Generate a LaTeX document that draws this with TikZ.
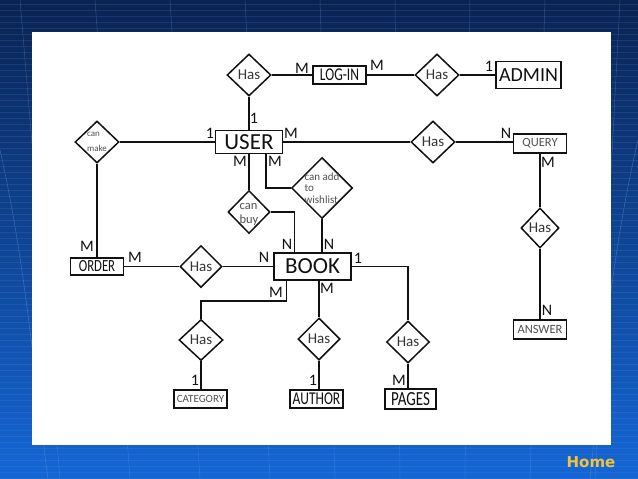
\documentclass[tikz,border=0pt]{standalone}
\usepackage{fontspec}
\setmainfont{Carlito}
\newfontfamily\condfont[FakeStretch=0.75]{Carlito}
\newfontfamily\homefont{DejaVu Sans}
\usepackage{tikz}
\usepackage{xcolor}
\usetikzlibrary{shapes.geometric,calc}
\definecolor{slidetop}{HTML}{0A2352}
\definecolor{slidebot}{HTML}{1466D6}
\definecolor{gridline}{HTML}{6C9BE0}
\definecolor{ink}{HTML}{111111}
\definecolor{inkgray}{HTML}{505050}
\definecolor{homegold}{HTML}{F0C43C}
\newcommand{\zcell}[2][0pt]{\makebox[0pt]{\smash{\raisebox{#1}{\begin{tabular}{@{}l@{}}#2\end{tabular}}}}}
\tikzset{
  ent/.style={draw=ink,line width=1.5pt,inner sep=0pt,fill=white,text=ink},
  rel/.style={diamond,draw=ink,line width=1.5pt,inner sep=0pt,fill=white,
    minimum width=44pt,minimum height=42pt,font=\fontsize{15}{15}\selectfont,text=ink!85},
  card/.style={font=\fontsize{16}{16}\selectfont,inner sep=0pt,text=ink},
  link/.style={draw=ink,line width=1.5pt},
}

\begin{document}
\begin{tikzpicture}[x=1pt,y=-1pt]
      \useasboundingbox (0,0) rectangle (638,479);
      % slide background
      \shade[top color=slidetop,bottom color=slidebot] (0,0) rectangle (638,479);
      \foreach \yy in {4,10,...,478}
        {\draw[gridline,opacity=.16,line width=.4pt] (0,\yy) -- (638,\yy);}
      \foreach \xa/\xb in {-60/-10,20/60,95/130,170/200,245/270,320/335,395/400,470/465,545/530,620/595,690/660}
        {\draw[gridline,opacity=.35,line width=.5pt] (\xa,0) -- (\xb,479);}
      \draw[gridline,opacity=.4,line width=.6pt] (0,150) .. controls (25,260) and (35,380) .. (48,479);
      \draw[gridline,opacity=.4,line width=.6pt] (638,140) .. controls (612,250) and (600,380) .. (590,479);
      \fill[white] (32,32) rectangle (611,445);
      % entities
      \node[ent,minimum width=53pt,minimum height=18pt,font=\condfont\fontsize{18}{18}\selectfont] (login) at (339.5,75) {LOG-IN};
      \node[ent,minimum width=65pt,minimum height=27pt,font=\fontsize{20}{20}\selectfont] (admin) at (528.5,75) {ADMIN};
      \node[ent,minimum width=67pt,minimum height=23pt,font=\fontsize{23}{23}\selectfont] (user) at (249,142) {USER};
      \node[ent,minimum width=53pt,minimum height=19pt,font=\fontsize{12.5}{12.5}\selectfont,text=inkgray] (query) at (540,143.5) {QUERY};
      \node[ent,minimum width=53pt,minimum height=19pt,font=\fontsize{12.5}{12.5}\selectfont,text=inkgray] (answer) at (540,329.5) {ANSWER};
      \node[ent,minimum width=53pt,minimum height=17pt,font=\condfont\fontsize{17}{17}\selectfont] (order) at (97,266.5) {ORDER};
      \node[ent,minimum width=77pt,minimum height=27pt,font=\fontsize{23}{23}\selectfont] (book) at (312.5,266.5) {BOOK};
      \node[ent,minimum width=53pt,minimum height=18pt,font=\fontsize{11}{11}\selectfont,text=inkgray] (category) at (200.5,399) {CATEGORY};
      \node[ent,minimum width=53pt,minimum height=18pt,font=\condfont\fontsize{18}{18}\selectfont] (author) at (316.5,399) {AUTHOR};
      \node[ent,minimum width=51pt,minimum height=20pt,font=\condfont\fontsize{20}{20}\selectfont] (pages) at (410.5,399) {PAGES};
      % relationships
      \node[rel] (hasLogin) at (249,75) {Has};
      \node[rel] (hasAdmin) at (437,75) {Has};
      \node[rel,font=\fontsize{9}{15}\selectfont,text=inkgray] (canMake) at (97,142) {\zcell[-1.5pt]{can\\make}};
      \node[rel] (hasQuery) at (433,142) {Has};
      \node[rel,minimum width=38pt,minimum height=40pt] (hasAnswer) at (540,228) {Has};
      \node[rel,minimum width=42pt,minimum height=43pt,font=\fontsize{12.5}{14}\selectfont,text=inkgray] (canBuy) at (249,212) {\zcell[-5pt]{can\\buy}};
      \node[rel,minimum width=61pt,minimum height=61pt,font=\fontsize{11}{11.5}\selectfont,text=inkgray] (wish) at (322,188) {\zcell[-4pt]{can add\\to\\wishlist}};
      \node[rel,minimum width=42pt] (hasOrder) at (201,266.5) {Has};
      \node[rel,minimum height=41pt] (hasCat) at (201,340) {Has};
      \node[rel,minimum width=42pt] (hasAuthor) at (319,339) {Has};
      \node[rel,minimum width=43pt] (hasPages) at (408,342) {Has};
      % connectors
      \draw[link] (hasLogin.east) -- (login.west);
      \draw[link] (login.east) -- (hasAdmin.west);
      \draw[link] (hasAdmin.east) -- (admin.west);
      \draw[link] (hasLogin.south) -- (user.north);
      \draw[link] (canMake.east) -- (user.west);
      \draw[link] (user.east) -- (hasQuery.west);
      \draw[link] (hasQuery.east) -- (hasQuery.east -| query.west);
      \draw[link] (query.south) -- (hasAnswer.north);
      \draw[link] (hasAnswer.south) -- (answer.north);
      \draw[link] (user.south) -- (canBuy.north);
      \draw[link] ([xshift=17pt]user.south) |- (wish.west);
      \draw[link] (canBuy.east) -| ([xshift=-18pt]book.north);
      \draw[link] (wish.south) -- (wish.south |- book.north);
      \draw[link] (canMake.south) -- (order.north);
      \draw[link] (order.east) -- (hasOrder.west);
      \draw[link] (hasOrder.east) -- (book.west);
      \draw[link] (book.east) -| (hasPages.north);
      \draw[link] (hasPages.south) -- (hasPages.south |- pages.north);
      \draw[link] ([xshift=-26pt]book.south) -- ++(0,20) -| (hasCat.north);
      \draw[link] (hasCat.south) -- (hasCat.south |- category.north);
      \draw[link] (hasAuthor.north |- book.south) -- (hasAuthor.north);
      \draw[link] (hasAuthor.south) -- (hasAuthor.south |- author.north);
      % cardinalities
      \foreach \nm/\px/\py/\txt in {cLogL/302/68/M, cLogR/377/65/M, cAdm/489/66/1, cUserT/254/118/1,
          cUserL/210/133/1, cUserR/291/133/M, cQry/506/133/N, cQryB/548/162/M, cAns/547/310/N,
          cBuyU/240/161/M, cWishU/275/161/M, cBuyB/287/244/N, cWishB/329/244/N, cOrdT/87/246/M,
          cOrdR/135/257/M, cBookL/264/257/N, cBookR/358/258/1, cBookC/276/292/M, cBookA/327/288/M,
          cCat/195/380/1, cAut/313/380/1, cPag/399/380/M}
        {\node[card] (\nm) at (\px,\py) {\txt};}
      \node[font=\homefont\bfseries\fontsize{15}{15}\selectfont,text=homegold,inner sep=0pt] (home) at (591,462) {Home};
    \end{tikzpicture}
\end{document}
